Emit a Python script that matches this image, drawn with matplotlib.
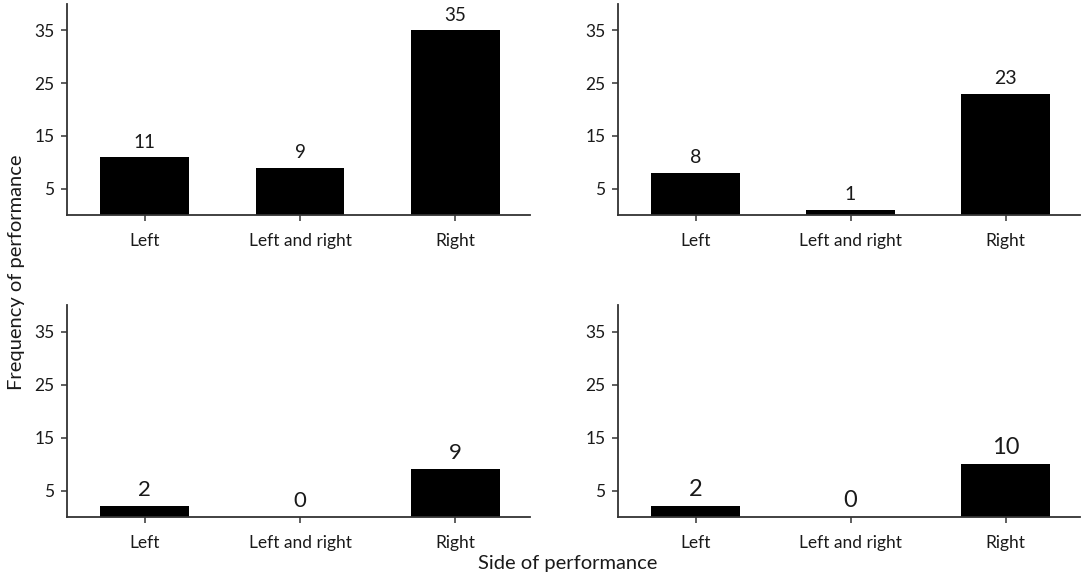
import matplotlib
matplotlib.use("Agg")
from matplotlib import pyplot as plt

plt.rcParams["font.family"] = ["Lato", "DejaVu Sans"]

SIDES = ["Left", "Left and right", "Right"]
COUNTS_TL = [11, 9, 35]
COUNTS_TR = [8, 1, 23]
COUNTS_BL = [2, 0, 9]
COUNTS_BR = [2, 0, 10]
Y_TICKS = [5, 15, 25, 35]

panels = [
    (COUNTS_TL, 13.5),
    (COUNTS_TR, 14),
    (COUNTS_BL, 16),
    (COUNTS_BR, 17),
]

fig = plt.figure(figsize=(10.92, 5.78), dpi=100)
W, H = 1092, 578
boxes = [
    (67, 4, 530, 215),
    (618, 4, 1080, 215),
    (67, 305, 530, 517),
    (618, 305, 1080, 517),
]

for (x0, y0, x1, y1), (counts, lsize) in zip(boxes, panels):
    ax = fig.add_axes([x0 / W, 1 - y1 / H, (x1 - x0) / W, (y1 - y0) / H])
    pos = list(range(len(SIDES)))
    ax.bar(pos, counts, width=0.57, color="black")
    for p, c in zip(pos, counts):
        ax.text(p, c + 1.2, str(c), ha="center", va="bottom",
                fontsize=lsize, color="#1a1a1a")
    ax.set_xlim(-0.5, 2.48)
    ax.set_ylim(0, 40)
    ax.set_xticks(pos)
    ax.set_xticklabels(SIDES, fontsize=12.5, color="#1a1a1a")
    ax.set_yticks(Y_TICKS)
    ax.set_yticklabels([str(t) for t in Y_TICKS], fontsize=12.5, color="#1a1a1a")
    for side in ["top", "right"]:
        ax.spines[side].set_visible(False)
    for side in ["left", "bottom"]:
        ax.spines[side].set_color("#333333")
        ax.spines[side].set_linewidth(1.3)
    ax.tick_params(axis="both", length=4, width=1.1, color="#333333")
    ax.tick_params(axis="x", pad=9)
    ax.tick_params(axis="y", pad=5)

fig.text(17 / W, 1 - 272 / H, "Frequency of performance", rotation=90,
         ha="center", va="center", fontsize=14.5, color="#1a1a1a")
fig.text(568 / W, 1 - 564 / H, "Side of performance",
         ha="center", va="center", fontsize=14.5, color="#1a1a1a")

fig.savefig("out.png", dpi=100)
